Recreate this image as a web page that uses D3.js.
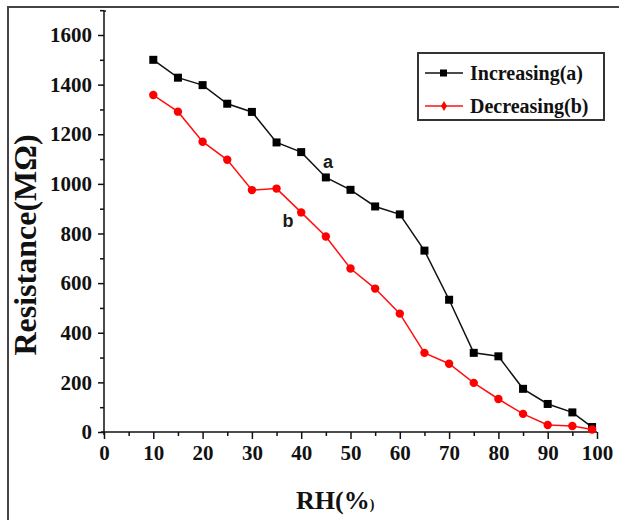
<!DOCTYPE html>
<html>
<head>
<meta charset="utf-8">
<script src="https://cdn.jsdelivr.net/npm/d3@7/dist/d3.min.js"></script>
<style>
  body { margin: 0; background: #fff; }
  .axis path, .axis line { stroke: #111; stroke-width: 1.5; }
  .serif { font-family: "Liberation Serif", "Times New Roman", "DejaVu Serif", serif; font-weight: bold; }
  .axis text { font-family: "Liberation Serif", "Times New Roman", "DejaVu Serif", serif; font-weight: bold; fill: #111; }
</style>
</head>
<body>
<div id="chart"></div>
<script>
  //humidity steps (x) and measured resistance for both branches
  const rh = [10, 15, 20, 25, 30, 35, 40, 45, 50, 55, 60, 65, 70, 75, 80, 85, 90, 95, 99]
  const increasing = [1500, 1428, 1398, 1323, 1290, 1167, 1128, 1026, 976, 909, 877, 731, 533, 319, 305, 174, 113, 79, 20]
  const decreasing = [1358, 1291, 1170, 1097, 975, 981, 885, 788, 659, 578, 477, 319, 275, 198, 133, 73, 28, 24, 10]
  const seriesNames = ["Increasing(a)", "Decreasing(b)"]
  const xTicks = [0, 10, 20, 30, 40, 50, 60, 70, 80, 90, 100]
  const yTicks = [0, 200, 400, 600, 800, 1000, 1200, 1400, 1600]

  const width = 619, height = 520

  const svg = d3.select("#chart").append("svg")
    .attr("width", width)
    .attr("height", height)

  //outer frame, cut by the right and bottom edge of the picture
  svg.append("rect")
    .attr("x", 8).attr("y", 7)
    .attr("width", 700).attr("height", 600)
    .attr("fill", "none").attr("stroke", "#444").attr("stroke-width", 2)

  const xScale = d3.scaleLinear().domain([0, 100]).range([104, 597])
  const yScale = d3.scaleLinear().domain([0, 1600]).range([432, 35])
  const yTop = 11

  //x axis, ticks pointing down
  const xAxisG = svg.append("g").attr("class", "axis")
    .attr("transform", "translate(0," + yScale(0) + ")")
  xAxisG.call(d3.axisBottom(xScale).tickValues(d3.range(5, 100, 10)).tickSize(4).tickFormat(""))
  xAxisG.call(g => g.select(".domain").remove())
  const xMajor = svg.append("g").attr("class", "axis")
    .attr("transform", "translate(0," + yScale(0) + ")")
    .call(d3.axisBottom(xScale).tickValues(xTicks).tickSize(7).tickSizeOuter(0).tickPadding(5).tickFormat(d3.format("d")))
  xMajor.select(".domain").attr("d", "M" + (xScale(0) - 3) + ",0H" + xScale(100))
  xMajor.selectAll("text").style("font-size", "21px").attr("dy", "0.75em")

  //y axis, ticks pointing left
  const yMinor = svg.append("g").attr("class", "axis")
    .attr("transform", "translate(" + xScale(0) + ",0)")
    .call(d3.axisLeft(yScale).tickValues(d3.range(100, 1800, 200)).tickSize(4).tickFormat(""))
  yMinor.select(".domain").remove()
  const yMajor = svg.append("g").attr("class", "axis")
    .attr("transform", "translate(" + xScale(0) + ",0)")
    .call(d3.axisLeft(yScale).tickValues(yTicks).tickSize(6).tickSizeOuter(0).tickPadding(6).tickFormat(d3.format("d")))
  yMajor.select(".domain").attr("d", "M2," + yTop + "H0V" + (yScale(0) + 3))
  yMajor.selectAll("text").style("font-size", "21px")

  //axis titles
  svg.append("text")
    .attr("class", "serif")
    .attr("transform", "translate(36,245) rotate(-90)")
    .attr("text-anchor", "middle")
    .style("font-size", "32px").attr("fill", "#111")
    .text("Resistance(MΩ)")

  const xTitle = svg.append("text")
    .attr("class", "serif")
    .attr("x", 296).attr("y", 509)
    .attr("fill", "#111")
  xTitle.append("tspan").style("font-size", "26px").text("RH(%")
  xTitle.append("tspan").style("font-size", "14px").text(")")

  const line = d3.line()
    .x((d, i) => xScale(rh[i]))
    .y(d => yScale(d))

  //branch a : black squares
  svg.append("path")
    .datum(increasing)
    .attr("d", line)
    .attr("fill", "none").attr("stroke", "#111").attr("stroke-width", 1.5)
  svg.selectAll(".sq").data(increasing).enter().append("rect")
    .attr("class", "sq")
    .attr("x", (d, i) => xScale(rh[i]) - 4)
    .attr("y", d => yScale(d) - 4)
    .attr("width", 8).attr("height", 8)
    .attr("fill", "#000")

  //branch b : red dots
  svg.append("path")
    .datum(decreasing)
    .attr("d", line)
    .attr("fill", "none").attr("stroke", "#ff1010").attr("stroke-width", 1.5)
  svg.selectAll(".dot").data(decreasing).enter().append("circle")
    .attr("class", "dot")
    .attr("cx", (d, i) => xScale(rh[i]))
    .attr("cy", d => yScale(d))
    .attr("r", 4.2)
    .attr("fill", "#ff0000")

  //curve labels
  svg.append("text").attr("x", 328).attr("y", 168)
    .attr("text-anchor", "middle")
    .style("font-family", "'Liberation Sans', Arial, sans-serif").style("font-weight", "bold")
    .style("font-size", "18px").attr("fill", "#1a1a1a").text("a")
  svg.append("text").attr("x", 288).attr("y", 227)
    .attr("text-anchor", "middle")
    .style("font-family", "'Liberation Sans', Arial, sans-serif").style("font-weight", "bold")
    .style("font-size", "18px").attr("fill", "#1a1a1a").text("b")

  //legend
  const legend = svg.append("g")
  legend.append("rect")
    .attr("x", 418).attr("y", 53).attr("width", 186).attr("height", 67)
    .attr("fill", "#fff").attr("stroke", "#333").attr("stroke-width", 2)
  const legColors = ["#111", "#ff1010"]
  seriesNames.forEach((name, i) => {
    const y = 73 + i * 33
    legend.append("line")
      .attr("x1", 425).attr("x2", 463).attr("y1", y).attr("y2", y)
      .attr("stroke", legColors[i]).attr("stroke-width", 1.5)
    if (i === 0) {
      legend.append("rect").attr("x", 440).attr("y", y - 3.5).attr("width", 7).attr("height", 7).attr("fill", "#000")
    } else {
      legend.append("path").attr("d", d3.symbol(d3.symbolDiamond, 30)()).attr("transform", "translate(444," + y + ")").attr("fill", "#ff0000")
    }
    legend.append("text")
      .attr("class", "serif")
      .attr("x", 470).attr("y", y + 7)
      .style("font-size", "20px").attr("fill", "#111")
      .text(name)
  })
</script>
</body>
</html>
